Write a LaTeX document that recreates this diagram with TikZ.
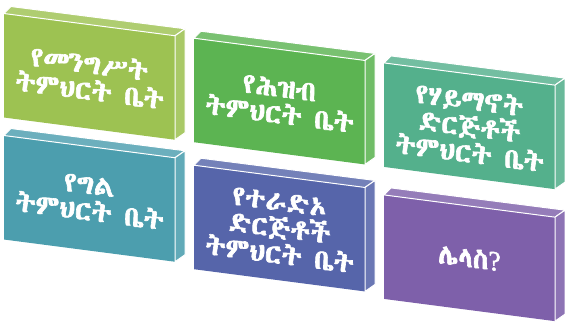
\documentclass[tikz,border=0pt]{standalone}
\usepackage{fontspec}
\usepackage{xcolor}
\usepackage{tikz}
\usetikzlibrary{positioning,calc}
\IfFontExistsTF{Abyssinica SIL}{\newfontfamily\ethfont{Abyssinica SIL}[FakeBold=2.2]}{%
  \IfFontExistsTF{FreeSerif}{\newfontfamily\ethfont{FreeSerif}[FakeBold=2.2]}{%
    \IfFontExistsTF{Ethiopia Jiret}{\newfontfamily\ethfont{Ethiopia Jiret}}{%
      \IfFontExistsTF{Unifont}{\newfontfamily\ethfont{Unifont}}{%
        \newfontfamily\ethfont{DejaVu Sans}}}}}
\newfontfamily\qfont{Liberation Serif}[FakeBold=1.5]
\definecolor{limegreen}{RGB}{157,194,82}
\definecolor{leafgreen}{RGB}{92,180,82}
\definecolor{jadegreen}{RGB}{84,176,140}
\definecolor{steelteal}{RGB}{76,158,174}
\definecolor{slateblue}{RGB}{86,101,170}
\definecolor{plumviolet}{RGB}{126,96,170}
% top and right faces of a slab
\newcommand{\slabsides}[2]{%
  \filldraw[fill=#2!82!white,draw=white,line width=1pt] (#1.north west) -- ++(7,7)
    -- ($(#1.north east)+(10,7)$) -- (#1.north east) -- cycle;
  \filldraw[fill=#2!88!white,draw=white,line width=1pt] (#1.north east) -- ++(10,7)
    -- ($(#1.south east)+(10,7)$) -- (#1.south east) -- cycle;}

\begin{document}
\begin{tikzpicture}[
  x=1pt,y=1pt,
  node distance=18pt and 19pt,
  slab/.style={rectangle,minimum width=171pt,minimum height=104pt,
    inner sep=0pt,outer sep=0pt,transform shape,align=center,text=white,
    font=\ethfont\fontsize{28}{26.5}\selectfont}
]
\useasboundingbox (0,0) rectangle (565,-324);
\begin{scope}[yslant=-0.13]
\node[slab,fill=limegreen,anchor=north west] (gov) at (4,-13) {የመንግሥት\\ትምህርት ቤት};
\node[slab,fill=leafgreen,right=of gov] (public) {የሕዝብ\\ትምህርት ቤት};
\node[slab,fill=jadegreen,right=of public] (faith) {የሃይማኖት\\ድርጅቶች\\ትምህርት ቤት};
\node[slab,fill=steelteal,below=of gov] (private) {የግል\\ትምህርት ቤት};
\node[slab,fill=slateblue,right=of private,yshift=-5pt] (aid) {የተራድኦ\\ድርጅቶች\\ትምህርት ቤት};
\node[slab,fill=plumviolet,right=of aid,yshift=-5pt] (other) {ሌላስ{\qfont ?}};
\end{scope}
\slabsides{gov}{limegreen}
\slabsides{public}{leafgreen}
\slabsides{faith}{jadegreen}
\slabsides{private}{steelteal}
\slabsides{aid}{slateblue}
\slabsides{other}{plumviolet}
\end{tikzpicture}
\end{document}
